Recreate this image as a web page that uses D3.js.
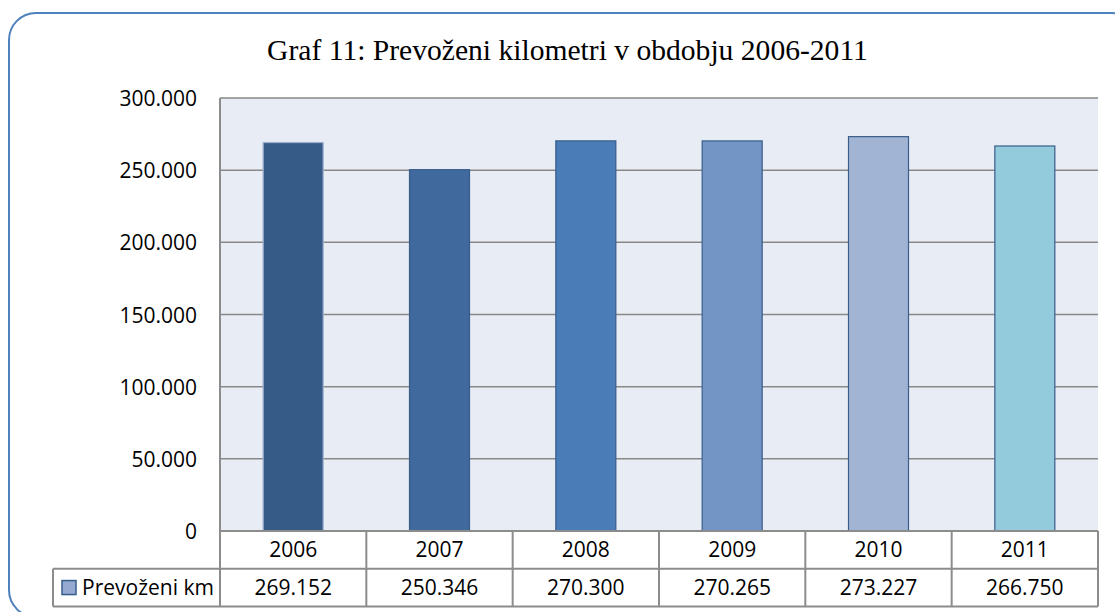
<!DOCTYPE html>
<html><head><meta charset="utf-8">
<script src="https://cdn.jsdelivr.net/npm/d3@7"></script>
<style>body{margin:0;background:#fff}svg{display:block}</style>
</head><body>
<svg id="c" width="1115" height="612"></svg>
<script>
const title = "Graf 11: Prevoženi kilometri v obdobju 2006-2011";
const categories = ["2006","2007","2008","2009","2010","2011"];
const values = [269152, 250346, 270300, 270265, 273227, 266750];
const valueLabels = ["269.152","250.346","270.300","270.265","273.227","266.750"];
const seriesName = "Prevoženi km";
const yTicks = [0, 50000, 100000, 150000, 200000, 250000, 300000];
const barColors = ["#375B87","#406A9E","#4A7CB7","#7395C6","#A2B4D4","#93CBDC"];
const barStrokes = ["#9DB1CF","#385D8A","#385D8A","#385D8A","#385D8A","#385D8A"];

const svg = d3.select("#c");
const L = 220, R = 1098, T = 98, B = 531;
const rowH = 37.7;
const legendLeft = 53;
const font = "'Open Sans', sans-serif";

// outer rounded border
svg.append("rect").attr("x", 9).attr("y", 13).attr("width", 1130).attr("height", 604)
  .attr("rx", 27).attr("ry", 27).attr("fill", "#fff").attr("stroke", "#4F81BD").attr("stroke-width", 2);

// title
const t = svg.append("text").attr("x", 567.5).attr("y", 60).attr("text-anchor", "middle")
  .attr("font-family", "'Liberation Serif', serif").attr("font-size", 28).attr("fill", "#000").text(title);
const tw = t.node().getComputedTextLength();
t.attr("font-size", 28 * 601 / tw);

const x = d3.scaleBand().domain(categories).range([L, R]).paddingInner(0).paddingOuter(0);
const y = d3.scaleLinear().domain([0, 300000]).range([B, T]);

// plot background
svg.append("rect").attr("x", L).attr("y", T).attr("width", R - L).attr("height", B - T).attr("fill", "#E8ECF4");

// gridlines
svg.append("g").selectAll("line").data(yTicks.filter(d => d > 0)).join("line")
  .attr("x1", L).attr("x2", R).attr("y1", d => y(d)).attr("y2", d => y(d))
  .attr("stroke", "#888").attr("stroke-width", 1.5);

// bars
const bw = 60;
svg.append("g").selectAll("rect").data(values).join("rect")
  .attr("x", (d, i) => x(categories[i]) + x.bandwidth() / 2 - bw / 2)
  .attr("y", d => y(d)).attr("width", bw).attr("height", d => B - y(d))
  .attr("fill", (d, i) => barColors[i]).attr("stroke", (d, i) => barStrokes[i]).attr("stroke-width", 1.2);

// y axis
const yAxis = d3.axisLeft(y).tickValues(yTicks).tickSize(0).tickPadding(23)
  .tickFormat(d => d3.format(",")(d).replace(/,/g, "."));
const ga = svg.append("g").attr("transform", `translate(${L},0)`).call(yAxis);
ga.select(".domain").remove();
ga.selectAll("text").attr("font-family", font).attr("font-size", 21).attr("fill", "#000").attr("dy", "0.36em");

// data table
const tableColor = "#8C8C8C";
const gt = svg.append("g");
const y0 = B, y1 = B + rowH, y2 = B + 2 * rowH;
gt.append("line").attr("x1", L).attr("x2", R).attr("y1", y0).attr("y2", y0).attr("stroke", tableColor).attr("stroke-width", 2);
gt.append("line").attr("x1", legendLeft).attr("x2", R).attr("y1", y1).attr("y2", y1).attr("stroke", tableColor).attr("stroke-width", 2);
gt.append("line").attr("x1", legendLeft).attr("x2", R).attr("y1", y2).attr("y2", y2).attr("stroke", tableColor).attr("stroke-width", 2);
gt.selectAll("line.v").data(categories.slice(1).concat(["_end"])).join("line").attr("class", "v")
  .attr("x1", d => d === "_end" ? R : x(d)).attr("x2", d => d === "_end" ? R : x(d))
  .attr("y1", y0).attr("y2", y2).attr("stroke", tableColor).attr("stroke-width", 2);
gt.append("line").attr("x1", L).attr("x2", L).attr("y1", T).attr("y2", y2).attr("stroke", tableColor).attr("stroke-width", 2);
gt.append("line").attr("x1", legendLeft).attr("x2", legendLeft).attr("y1", y1).attr("y2", y2).attr("stroke", tableColor).attr("stroke-width", 2);

gt.selectAll("text.h").data(categories).join("text").attr("class", "h")
  .attr("x", d => x(d) + x.bandwidth() / 2).attr("y", y0 + rowH / 2).attr("dy", "0.36em")
  .attr("text-anchor", "middle").attr("font-family", font).attr("font-size", 21).attr("fill", "#000").text(d => d);
gt.selectAll("text.v").data(valueLabels).join("text").attr("class", "v")
  .attr("x", (d, i) => x(categories[i]) + x.bandwidth() / 2).attr("y", y1 + rowH / 2).attr("dy", "0.36em")
  .attr("text-anchor", "middle").attr("font-family", font).attr("font-size", 21).attr("fill", "#000").text(d => d);

gt.append("rect").attr("x", 62).attr("y", y1 + rowH / 2 - 7).attr("width", 14).attr("height", 14)
  .attr("fill", "#95A9D1").attr("stroke", "#385D8A").attr("stroke-width", 1.5);
gt.append("text").attr("x", 82).attr("y", y1 + rowH / 2).attr("dy", "0.36em")
  .attr("font-family", font).attr("font-size", 21).attr("fill", "#000").text(seriesName);
</script>
</body></html>
